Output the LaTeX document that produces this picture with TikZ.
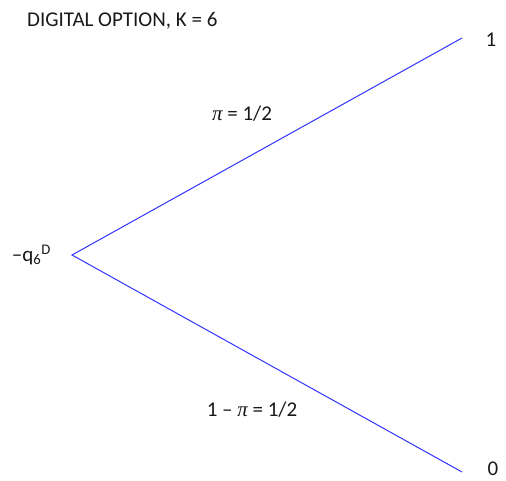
\documentclass[tikz,border=0pt]{standalone}
\usepackage{fontspec}
\setmainfont{Carlito}
\newfontfamily\pifont{Liberation Serif}
\newcommand{\mypi}{{\pifont\itshape π}}
\begin{document}
\begin{tikzpicture}[x=1pt,y=-1pt,
  lbl/.style={inner sep=0pt,font=\fontsize{21}{25}\selectfont,text=black!90},
  branch/.style={draw=blue!80!white,line width=1pt}]
\useasboundingbox (0,0) rectangle (506,481);
\coordinate (apex) at (72,255);
\coordinate (up) at (462,38);
\coordinate (down) at (462,472);
\draw[branch] (up) -- (apex) -- (down);
\node[lbl,anchor=west] (title) at (27,21) {DIGITAL OPTION, K = 6};
\node[lbl,anchor=east] (root) at (51,255) {–q\textsubscript{6}\textsuperscript{D}};
\node[lbl] (one) at (491,40) {1};
\node[lbl] (zero) at (493,469) {0};
\node[lbl] (pup) at (242,114) {\mypi{} = 1/2};
\node[lbl] (pdown) at (252,410) {1 – \mypi{} = 1/2};
\end{tikzpicture}
\end{document}
